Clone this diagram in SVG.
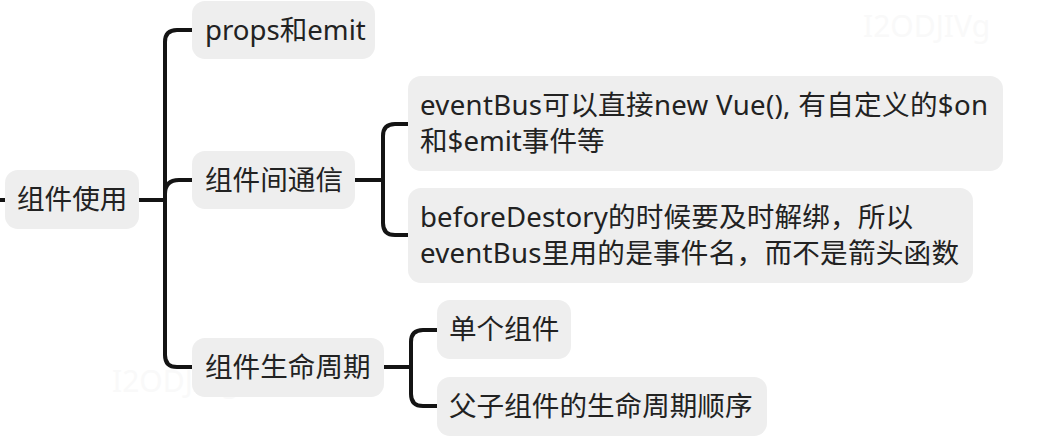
<svg xmlns="http://www.w3.org/2000/svg" width="1058" height="444" viewBox="0 0 1058 444">
<style>
.box{fill:#eeeeee}
.t{font-family:"Noto Sans","Noto Sans CJK SC",sans-serif;font-size:27.6px;fill:#222222}
.c{fill:none;stroke:#141414;stroke-width:4;stroke-linecap:butt;stroke-linejoin:round}
.wm{font-family:"Noto Sans","Liberation Sans",sans-serif;font-size:30px;fill:#f9f9f9}
</style>
<rect width="1058" height="444" fill="#ffffff"/>
<g id="watermarks">
<text class="wm" x="863" y="37">I2ODJIVg</text>
<text class="wm" x="112" y="392">I2ODJIVg</text>
</g>
<g id="connectors">
<path class="c" d="M0 200H5"/>
<path class="c" d="M139 200H165"/>
<path class="c" d="M192 30H177Q165 30 165 42V355Q165 367 177 367H192"/>
<path class="c" d="M165 194Q165 180 179 180H192"/>
<path class="c" d="M355 180H383"/>
<path class="c" d="M408 124H395Q383 124 383 136V223Q383 235 395 235H408"/>
<path class="c" d="M384 367H411"/>
<path class="c" d="M437 330H423Q411 330 411 342V394Q411 406 423 406H437"/>
</g>
<g id="root">
<rect class="box" x="5" y="170" width="134" height="59" rx="13"/>
<text class="t" x="17" y="209">组件使用</text>
</g>
<g id="props">
<rect class="box" x="192" y="1" width="183" height="58" rx="13"/>
<text class="t" x="205" y="40">props和emit</text>
</g>
<g id="comm">
<rect class="box" x="192" y="151" width="163" height="58" rx="13"/>
<text class="t" x="205" y="190">组件间通信</text>
</g>
<g id="eventbus">
<rect class="box" x="408" y="76" width="595" height="95" rx="13"/>
<text class="t" x="420" y="115" textLength="568" lengthAdjust="spacing">eventBus可以直接new Vue(), 有自定义的$on</text>
<text class="t" x="420" y="151">和$emit事件等</text>
</g>
<g id="beforedestroy">
<rect class="box" x="408" y="188" width="565" height="95" rx="13"/>
<text class="t" x="420" y="227" textLength="493" lengthAdjust="spacing">beforeDestory的时候要及时解绑，所以</text>
<text class="t" x="420" y="263" textLength="539" lengthAdjust="spacing">eventBus里用的是事件名，而不是箭头函数</text>
</g>
<g id="lifecycle">
<rect class="box" x="192" y="338" width="192" height="59" rx="13"/>
<text class="t" x="205" y="377">组件生命周期</text>
</g>
<g id="single">
<rect class="box" x="437" y="300" width="134" height="59" rx="13"/>
<text class="t" x="449" y="339">单个组件</text>
</g>
<g id="parentchild">
<rect class="box" x="437" y="377" width="330" height="59" rx="13"/>
<text class="t" x="449" y="416">父子组件的生命周期顺序</text>
</g>
</svg>
